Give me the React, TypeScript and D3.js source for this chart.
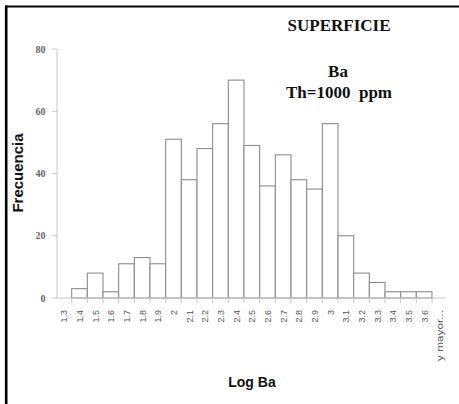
import React from "react";
import * as d3 from "d3";

const categories = ["1.3","1.4","1.5","1.6","1.7","1.8","1.9","2","2.1","2.2","2.3","2.4","2.5","2.6","2.7","2.8","2.9","3","3.1","3.2","3.3","3.4","3.5","3.6","y mayor..."];
const frequencies = [0,3,8,2,11,13,11,51,38,48,56,70,49,36,46,38,35,56,20,8,5,2,2,2,0];
const yTicks = [0,20,40,60,80];

const W = 459, H = 404;
const plotLeft = 56, plotRight = 447.67, plotTop = 49, plotBottom = 298;

export default function App() {
  const x = d3.scaleBand<string>().domain(categories).range([plotLeft, plotRight]).paddingInner(0).paddingOuter(0);
  const y = d3.scaleLinear().domain([0, 80]).range([plotBottom, plotTop]);
  const bw = x.bandwidth();
  const boundaries = categories.slice(1).map((c) => x(c) as number);
  return (
    <svg width={W} height={H} style={{ position: "absolute", left: 0, top: 0, background: "#fff" }}>
      {/* frame */}
      <line x1={6.2} y1={5.5} x2={6.2} y2={H} stroke="#000" strokeWidth={2.6} />
      <line x1={5} y1={6.5} x2={W} y2={6.5} stroke="#000" strokeWidth={2} />

      {/* y axis */}
      <line x1={57} y1={plotTop} x2={57} y2={plotBottom} stroke="#c8c8c8" strokeWidth={1} />
      {yTicks.map((t) => (
        <g key={t}>
          <line x1={52} y1={y(t)} x2={57} y2={y(t)} stroke="#c8c8c8" strokeWidth={1} />
          <text x={45.5} y={y(t)} textAnchor="end" dominantBaseline="central" fontFamily="Liberation Serif, Times New Roman, serif" fontSize={10} fill="#666" fontWeight="bold">{t}</text>
        </g>
      ))}

      {/* bars */}
      {categories.map((c, i) => frequencies[i] > 0 ? (
        <rect key={c} x={(x(c) as number)} y={y(frequencies[i])} width={bw} height={plotBottom - y(frequencies[i])} fill="#fff" stroke="#8c8c8c" strokeWidth={1.1} />
      ) : null)}

      {/* x axis */}
      <line x1={plotLeft} y1={plotBottom} x2={plotRight - 2} y2={plotBottom} stroke="#c8c8c8" strokeWidth={1.2} />
      {boundaries.map((bx, i) => (
        <line key={i} x1={bx} y1={plotBottom} x2={bx} y2={plotBottom + 5} stroke="#c8c8c8" strokeWidth={1} />
      ))}
      {categories.map((c) => {
        const cx = (x(c) as number) + bw / 2 + 0.5;
        const isLong = c.length > 4;
        return (
          <text key={c} transform={`translate(${cx},${310}) rotate(-90)`} textAnchor="end" dominantBaseline="central"
            fontFamily="Liberation Sans, Arial, sans-serif" fontSize={9} fill="#555"
            {...(isLong ? { textLength: 51, lengthAdjust: "spacingAndGlyphs" } : {})}>{c}</text>
        );
      })}

      {/* axis titles */}
      <text transform={`translate(22.5,173) rotate(-90)`} textAnchor="middle" fontFamily="Liberation Sans, Arial, sans-serif" fontWeight="bold" fontSize={15} fill="#111">Frecuencia</text>
      <text x={252} y={387} textAnchor="middle" fontFamily="Liberation Sans, Arial, sans-serif" fontWeight="bold" fontSize={14} fill="#111">Log Ba</text>

      {/* titles */}
      <text x={339} y={30.7} textAnchor="middle" fontFamily="Liberation Serif, Times New Roman, serif" fontWeight="bold" fontSize={17} fill="#111">SUPERFICIE</text>
      <text x={338} y={76.5} textAnchor="middle" fontFamily="Liberation Serif, Times New Roman, serif" fontWeight="bold" fontSize={17} fill="#111">Ba</text>
      <text x={339} y={97.5} textAnchor="middle" fontFamily="Liberation Serif, Times New Roman, serif" fontWeight="bold" fontSize={17} fill="#111" style={{ whiteSpace: "pre" }}>{"Th=1000  ppm"}</text>
    </svg>
  );
}
